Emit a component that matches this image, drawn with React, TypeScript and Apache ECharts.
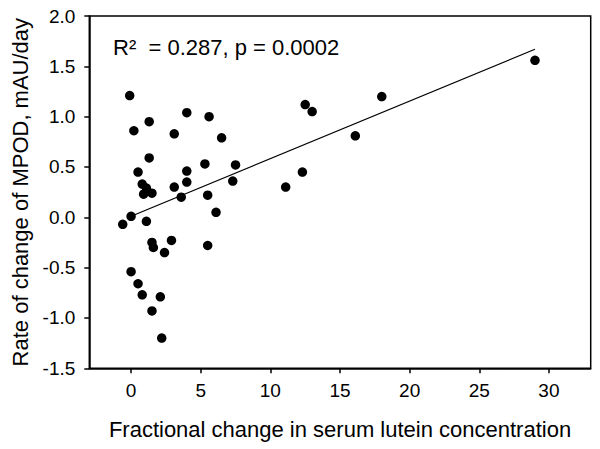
import React, { useEffect, useRef } from "react";
import * as echarts from "echarts";

const xTicks = [0, 5, 10, 15, 20, 25, 30];
const yTicks = [-1.5, -1.0, -0.5, 0.0, 0.5, 1.0, 1.5, 2.0];

const xValues = [
  -0.1, 0.2, 1.3, 4.0, 5.6, 3.1, 6.5, 1.3, 0.5, 4.0, 5.3, 7.5, 0.8, 1.1, 0.9,
  1.5, 4.0, 7.3, 3.1, 3.6, 5.5, 0.0, -0.6, 1.1, 6.1, 1.5, 1.6, 2.9, 2.4, 5.5,
  0.0, 0.5, 0.8, 2.1, 1.5, 2.2, 29.0, 18.0, 12.5, 13.0, 16.1, 12.3, 11.1,
];
const yValues = [
  1.21, 0.86, 0.95, 1.04, 1.0, 0.83, 0.79, 0.59, 0.45, 0.46, 0.53, 0.52, 0.33,
  0.29, 0.23, 0.24, 0.35, 0.36, 0.3, 0.2, 0.22, 0.01, -0.07, -0.04, 0.05,
  -0.25, -0.3, -0.23, -0.35, -0.28, -0.54, -0.66, -0.77, -0.79, -0.93, -1.2,
  1.56, 1.2, 1.12, 1.05, 0.81, 0.45, 0.3,
];
const fitX = [0, 29];
const fitY = [0.01, 1.67];

const annotation = "R\u00B2  = 0.287, p = 0.0002";
const xTitle = "Fractional change in serum lutein concentration";
const yTitle = "Rate of change of MPOD, mAU/day";

const FONT = "'Liberation Sans', Arial, Helvetica, sans-serif";

export default function App() {
  const ref = useRef<HTMLDivElement>(null);
  useEffect(() => {
    if (!ref.current) return;
    const chart = echarts.init(ref.current, undefined, { renderer: "svg" });
    chart.setOption({
      animation: false,
      backgroundColor: "#fff",
      textStyle: { fontFamily: FONT },
      grid: {
        left: 89.3,
        right: 9.3,
        top: 16,
        bottom: 80.7,
        show: true,
        borderColor: "#000",
        borderWidth: 1.5,
      },
      xAxis: {
        type: "value",
        min: -3,
        max: 33,
        name: xTitle,
        nameLocation: "middle",
        nameGap: 50,
        nameTextStyle: { fontSize: 22, color: "#000", fontFamily: FONT },
        axisLine: { show: true, onZero: false, lineStyle: { color: "#000", width: 1.5 } },
        axisTick: {
          show: true,
          inside: false,
          length: 5,
          customValues: xTicks,
          lineStyle: { color: "#000", width: 1.5 },
        },
        axisLabel: {
          customValues: xTicks,
          fontSize: 19,
          color: "#000",
          margin: 13,
          fontFamily: FONT,
        },
        splitLine: { show: false },
      },
      yAxis: {
        type: "value",
        min: -1.5,
        max: 2.0,
        interval: 0.5,
        name: yTitle,
        nameLocation: "middle",
        nameGap: 58,
        nameTextStyle: { fontSize: 22, color: "#000", fontFamily: FONT },
        axisLine: { show: true, onZero: false, lineStyle: { color: "#000", width: 1.5 } },
        axisTick: {
          show: true,
          inside: false,
          length: 5,
          customValues: yTicks,
          lineStyle: { color: "#000", width: 1.5 },
        },
        axisLabel: {
          customValues: yTicks,
          fontSize: 19,
          color: "#000",
          margin: 14,
          fontFamily: FONT,
          formatter: (v: number) => v.toFixed(1),
        },
        splitLine: { show: false },
      },
      graphic: [
        {
          type: "text",
          x: 113,
          y: 47.5,
          style: {
            text: annotation,
            fontSize: 22,
            fontFamily: FONT,
            fill: "#000",
            verticalAlign: "middle",
            align: "left",
          },
        },
      ],
      series: [
        {
          type: "line",
          data: fitX.map((x, i) => [x, fitY[i]]),
          symbol: "none",
          silent: true,
          lineStyle: { color: "#000", width: 1.2 },
          z: 1,
        },
        {
          type: "scatter",
          data: xValues.map((x, i) => [x, yValues[i]]),
          symbol: "circle",
          symbolSize: 9.5,
          itemStyle: { color: "#000", opacity: 1 },
          z: 2,
        },
      ],
    });
    return () => chart.dispose();
  }, []);
  return (
    <div
      ref={ref}
      style={{ position: "fixed", left: 0, top: 0, width: 600, height: 449 }}
    />
  );
}
